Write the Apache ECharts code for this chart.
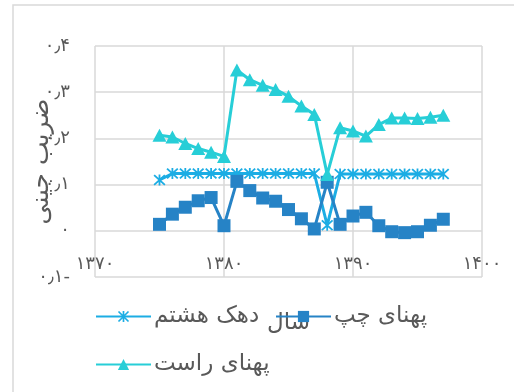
<!DOCTYPE html>
<html>
<head>
<meta charset="utf-8">
<script src="https://cdn.jsdelivr.net/npm/echarts@6/dist/echarts.min.js"></script>
<style>
  html, body { margin: 0; padding: 0; background: #fff; }
  #chart { width: 514px; height: 392px; }
</style>
</head>
<body>
<div id="chart"></div>
<script>
// Gini coefficient components by year
const years = [1375, 1376, 1377, 1378, 1379, 1380, 1381, 1382, 1383, 1384, 1385, 1386,
               1387, 1388, 1389, 1390, 1391, 1392, 1393, 1394, 1395, 1396, 1397];
const decile8 = [0.110, 0.124, 0.124, 0.124, 0.124, 0.124, 0.124, 0.124, 0.124, 0.124, 0.124, 0.124,
                 0.124, 0.012, 0.123, 0.123, 0.123, 0.123, 0.123, 0.123, 0.123, 0.123, 0.123];
const leftWidth = [0.014, 0.036, 0.051, 0.065, 0.072, 0.011, 0.107, 0.087, 0.071, 0.064, 0.046, 0.026,
                   0.004, 0.105, 0.014, 0.032, 0.040, 0.011, -0.002, -0.004, -0.002, 0.012, 0.025];
const rightWidth = [0.207, 0.203, 0.189, 0.178, 0.170, 0.161, 0.348, 0.327, 0.315, 0.306, 0.291, 0.270,
                    0.252, 0.122, 0.223, 0.216, 0.205, 0.230, 0.244, 0.244, 0.243, 0.246, 0.250];

const seriesNames = ['دهک هشتم', 'پهنای چپ', 'پهنای راست'];
const xTitle = 'سال';
const yTitle = 'ضریب جینی';

// Persian digits for tick labels
const faDigits = '۰۱۲۳۴۵۶۷۸۹';
function toFa(v, decimals) {
  const neg = v < 0;
  let s = Math.abs(v).toFixed(decimals).replace(/[0-9]/g, d => faDigits[+d]).replace('.', '٫');
  return neg ? s + '-' : s;
}

const pair = (xs, ys) => xs.map((x, i) => [x, ys[i]]);

// asterisk marker: vertical bar plus two diagonals
const asterisk = 'path://M8.5 0L11.5 0L11.5 20L8.5 20Z M2.1 0L20 17.9L17.9 20L0 2.1Z M17.9 0L20 2.1L2.1 20L0 17.9Z';

const FONT = 'DejaVu Sans';
const TXT = '#595959';
const GRID = '#d9d9d9';

const chart = echarts.init(document.getElementById('chart'), null, { renderer: 'canvas' });

const legendBase = {
  orient: 'horizontal',
  padding: 0,
  itemWidth: 55,
  itemHeight: 14,
  textStyle: { fontFamily: FONT, fontSize: 23, color: TXT, padding: [0, 0, 0, -2] },
  selectedMode: false
};

chart.setOption({
  animation: false,
  backgroundColor: '#fff',
  graphic: [{
    type: 'rect',
    shape: { x: 13, y: 5, width: 520, height: 400 },
    style: { fill: 'none', stroke: GRID, lineWidth: 1.5 },
    silent: true,
    z: -10
  }],
  grid: { left: 95, right: 32, top: 46, bottom: 115, outerBoundsMode: 'none', containLabel: false },
  xAxis: {
    type: 'value',
    min: 1370, max: 1400, interval: 10,
    name: xTitle,
    nameLocation: 'middle',
    nameGap: 35,
    nameMoveOverlap: false,
    nameTextStyle: { fontFamily: FONT, fontSize: 23, color: TXT },
    axisLine: { show: false },
    axisTick: { show: false },
    axisLabel: {
      inside: true, margin: 4,
      fontFamily: FONT, fontSize: 18, color: TXT,
      formatter: v => toFa(v, 0)
    },
    splitLine: { show: true, lineStyle: { color: GRID, width: 1.5 } }
  },
  yAxis: {
    type: 'value',
    min: -0.1, max: 0.4, interval: 0.1,
    name: yTitle,
    nameLocation: 'middle',
    nameRotate: 90,
    nameGap: 41,
    nameMoveOverlap: false,
    nameTextStyle: { fontFamily: FONT, fontSize: 25, color: TXT },
    axisLine: { show: false },
    axisTick: { show: false },
    axisLabel: {
      margin: 25,
      fontFamily: FONT, fontSize: 18, color: TXT,
      formatter: v => (Math.abs(v) < 1e-9 ? toFa(0, 0) : toFa(v, 1))
    },
    splitLine: { show: true, lineStyle: { color: GRID, width: 1.5 } }
  },
  legend: [
    Object.assign({}, legendBase, { data: [seriesNames[0]], left: 95, top: 305 }),
    Object.assign({}, legendBase, { data: [seriesNames[1]], left: 275, top: 305 }),
    Object.assign({}, legendBase, { data: [seriesNames[2]], left: 95, top: 353 })
  ],
  series: [
    {
      name: seriesNames[0],
      type: 'line',
      data: pair(years, decile8),
      symbol: asterisk,
      symbolSize: [12, 11],
      color: '#1cade4',
      lineStyle: { width: 3, color: '#1cade4' },
      itemStyle: { color: '#1cade4' },
      z: 2
    },
    {
      name: seriesNames[1],
      type: 'line',
      data: pair(years, leftWidth),
      symbol: 'rect',
      symbolSize: 13,
      color: '#2683c6',
      lineStyle: { width: 3, color: '#2683c6' },
      itemStyle: { color: '#2683c6' },
      z: 3
    },
    {
      name: seriesNames[2],
      type: 'line',
      data: pair(years, rightWidth),
      symbol: 'triangle',
      symbolSize: [14, 13],
      color: '#27ced7',
      lineStyle: { width: 3, color: '#27ced7' },
      itemStyle: { color: '#27ced7' },
      z: 4
    }
  ]
});
</script>
</body>
</html>
